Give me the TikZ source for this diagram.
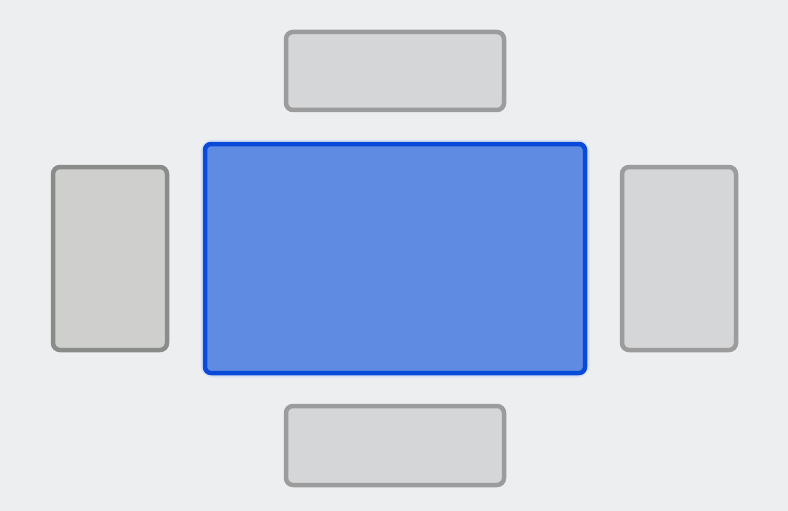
\documentclass[tikz,border=0pt]{standalone}
\definecolor{bg}{HTML}{EDEEF0}
\definecolor{grayfill}{HTML}{D5D6D7}
\definecolor{graystroke}{HTML}{9C9C9C}
\definecolor{leftfill}{HTML}{CFD0CE}
\definecolor{leftstroke}{HTML}{8A8C8A}
\definecolor{bluefill}{HTML}{5F8BE3}
\definecolor{bluestroke}{HTML}{0A4AD8}
\tikzset{
  box/.style={rectangle, inner sep=0pt, outer sep=0pt, line width=4.5pt, rounded corners=7pt},
  seat/.style={box, draw=graystroke, fill=grayfill},
  leftseat/.style={box, draw=leftstroke, fill=leftfill},
  tablebox/.style={box, draw=bluestroke, fill=bluefill, rounded corners=6pt},
}
\begin{document}
\begin{tikzpicture}[x=1pt,y=-1pt]
\fill[bg] (0,0) rectangle (788,511);
\useasboundingbox (0,0) rectangle (788,511);
% glow
\node[box, draw=bluestroke!25, opacity=0.5, line width=9pt, rounded corners=8pt, minimum width=380pt, minimum height=229pt] (glow) at (395,258.5) {};
\node[tablebox, minimum width=380pt, minimum height=229pt] (table) at (395,258.5) {};
\node[seat, minimum width=218pt, minimum height=78pt] (top) at (395,71) {};
\node[seat, minimum width=218pt, minimum height=79pt] (bottom) at (395,445.5) {};
\node[leftseat, minimum width=114pt, minimum height=183pt] (left) at (110,258.5) {};
\node[seat, minimum width=114pt, minimum height=183pt] (right) at (679,258.5) {};
\end{tikzpicture}
\end{document}
